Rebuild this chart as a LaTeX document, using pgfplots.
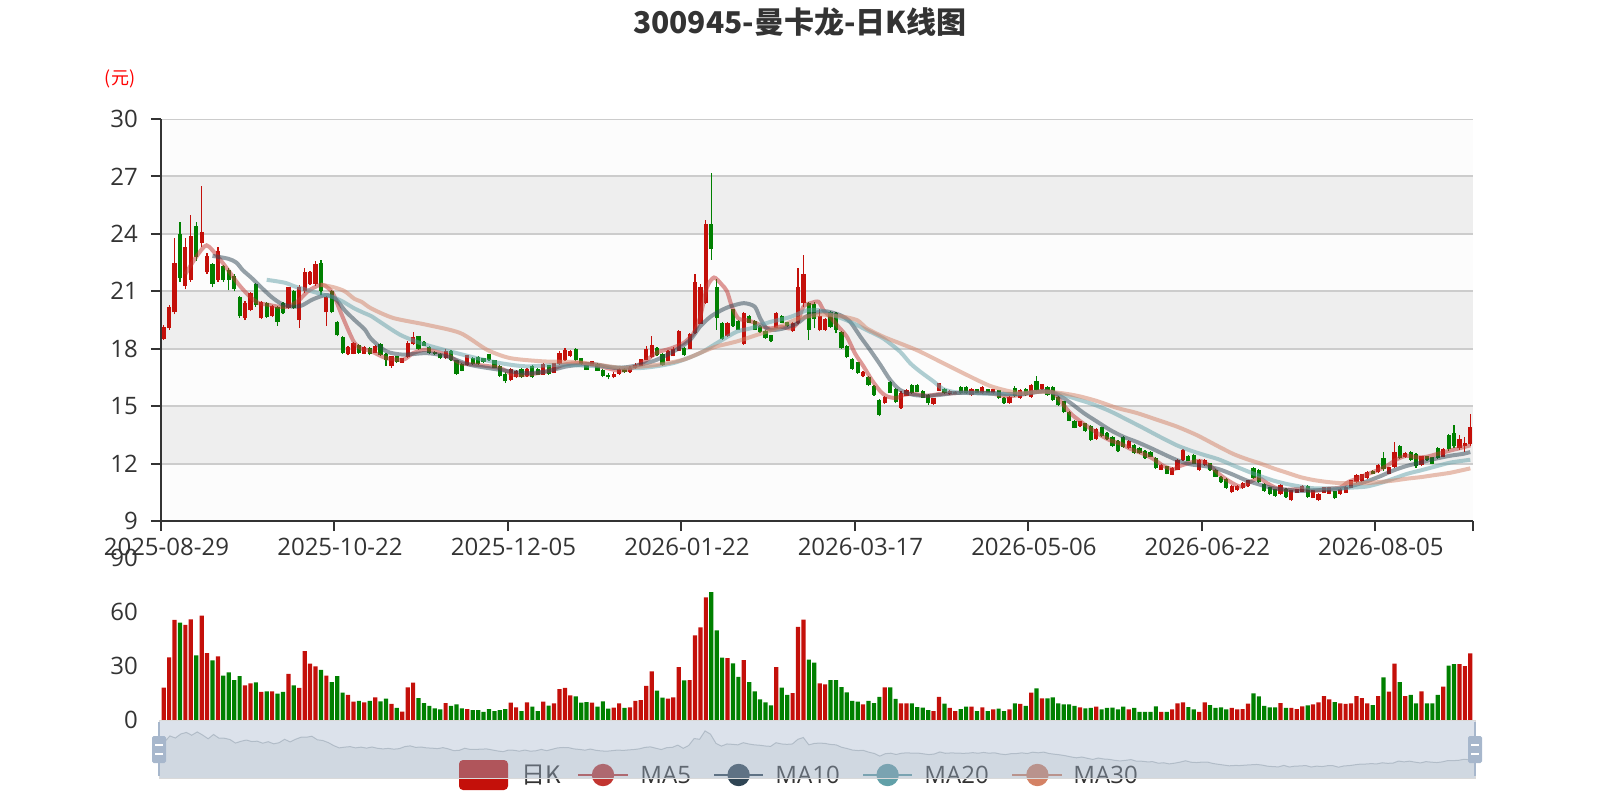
\documentclass[border=0pt]{standalone}
\usepackage{fontspec}
\setmainfont{Open Sans}
\newfontfamily\cjk{Noto Sans CJK SC}
\usepackage{pgfplots}
\usepackage{pgfplotstable}
\pgfplotsset{compat=1.18}

\definecolor{upred}{RGB}{196,16,10}
\definecolor{dngreen}{RGB}{0,128,0}
\definecolor{maA}{HTML}{C23531}
\definecolor{maB}{HTML}{2F4554}
\definecolor{maC}{HTML}{61A0A8}
\definecolor{maD}{HTML}{D48265}
\definecolor{txt}{HTML}{333333}
\definecolor{gridc}{HTML}{CCCCCC}
\definecolor{bandg}{HTML}{EEEEEE}
\definecolor{bandl}{HTML}{FCFCFC}
\definecolor{handlec}{RGB}{167,183,204}
\definecolor{shadowc}{RGB}{47,69,84}

\pgfplotstableread{
i o c l h v
0 18.5 19.15 18.45 19.25 18.0
1 19.1 20.2 19.0 20.3 34.8
2 19.9 22.5 19.8 23.8 55.6
3 24.0 21.7 21.5 24.6 54.1
4 21.3 23.3 21.1 23.8 52.8
5 21.6 23.9 21.5 25.0 55.9
6 24.4 22.8 22.6 24.6 35.9
7 23.5 24.1 23.3 26.5 58.0
8 22.0 22.85 21.9 23.0 37.2
9 22.4 21.4 21.2 22.5 33.1
10 21.6 23.1 21.5 23.3 35.4
11 22.3 21.6 21.5 22.35 24.6
12 22.1 21.6 21.05 22.2 26.5
13 21.8 21.1 21.0 21.9 22.2
14 20.7 19.7 19.6 20.75 24.4
15 19.6 20.4 19.5 20.5 19.3
16 20.0 20.9 19.95 20.95 20.4
17 21.4 20.3 20.2 21.45 20.9
18 19.6 20.45 19.55 20.5 15.6
19 20.4 19.65 19.6 20.45 15.9
20 19.7 20.25 19.65 20.3 15.9
21 20.2 19.4 19.2 20.25 14.6
22 20.4 19.85 19.8 20.45 15.6
23 20.15 21.2 20.1 21.25 25.6
24 21.0 20.15 20.1 21.05 19.3
25 19.5 21.2 19.1 21.35 17.8
26 21.0 22.0 20.9 22.2 38.3
27 21.4 22.0 21.35 22.05 31.3
28 21.4 22.4 21.3 22.56 29.8
29 22.5 21.0 20.8 22.65 27.8
30 19.9 20.7 19.2 20.75 24.6
31 21.0 19.9 19.85 21.05 21.1
32 19.4 18.7 18.65 19.45 24.4
33 18.6 17.8 17.75 18.65 15.2
34 17.7 18.1 17.65 18.15 13.9
35 17.75 18.3 17.7 18.35 10.2
36 18.2 17.8 17.75 18.25 10.6
37 17.75 18.1 17.7 18.15 9.8
38 18.05 17.7 17.65 18.1 10.6
39 17.8 18.15 17.77 18.21 12.6
40 18.25 17.65 17.6 18.3 10.4
41 17.7 17.4 17.1 17.8 11.9
42 17.1 17.6 17.0 17.63 8.9
43 17.6 17.3 17.25 17.62 6.7
44 17.28 17.5 17.25 17.52 4.6
45 17.55 18.3 17.5 18.38 18.1
46 18.25 18.6 18.2 18.85 20.7
47 18.65 18.0 17.95 18.68 12.2
48 18.35 18.15 18.12 18.38 9.4
49 18.1 17.8 17.74 18.12 7.8
50 17.85 17.7 17.69 17.86 6.5
51 17.75 17.5 17.46 17.77 5.9
52 17.5 17.9 17.46 17.98 9.4
53 17.9 17.4 17.34 17.95 7.8
54 17.4 16.7 16.64 17.43 8.7
55 17.2 16.85 16.82 17.25 6.5
56 17.15 17.65 17.12 17.69 6.1
57 17.5 17.2 17.16 17.56 5.5
58 17.55 17.2 17.16 17.6 5.5
59 17.5 17.3 17.25 17.52 4.5
60 17.7 17.4 17.38 17.74 6.0
61 17.4 17.0 16.99 17.43 5.0
62 17.1 16.6 16.52 17.16 5.5
63 16.7 16.3 16.21 16.76 6.0
64 16.35 16.95 16.29 16.99 9.6
65 16.5 16.85 16.47 16.9 7.0
66 16.95 16.5 16.47 16.99 5.0
67 16.55 16.95 16.52 16.99 9.8
68 17.1 16.5 16.47 17.16 7.4
69 16.95 16.65 16.64 16.99 5.0
70 16.65 17.2 16.64 17.25 10.2
71 17.15 16.7 16.64 17.16 8.0
72 16.75 17.25 16.73 17.27 9.3
73 17.2 17.8 17.16 17.86 17.2
74 17.4 17.95 17.34 18.03 17.8
75 17.6 17.9 17.56 17.95 13.7
76 18.0 17.4 17.34 18.03 13.1
77 17.5 17.2 17.16 17.51 9.6
78 17.15 16.9 16.88 17.16 10.0
79 17.1 17.35 17.09 17.38 9.6
80 17.2 16.85 16.83 17.23 7.4
81 16.9 16.6 16.5 16.95 10.4
82 16.65 16.5 16.4 16.75 6.3
83 16.5 16.7 16.45 16.8 6.9
84 16.7 16.95 16.65 17.0 9.3
85 16.95 16.8 16.75 17.0 6.7
86 16.8 17.0 16.75 17.1 7.0
87 17.0 17.15 16.95 17.25 10.6
88 17.1 17.45 17.09 17.46 11.1
89 17.4 18.0 17.4 18.12 18.9
90 17.55 18.2 17.51 18.67 27.0
91 18.05 17.65 17.6 18.09 16.3
92 17.75 17.15 17.11 17.77 12.4
93 17.35 17.9 17.34 17.91 11.9
94 17.6 18.0 17.6 18.07 12.6
95 17.9 18.9 17.86 18.98 29.4
96 18.05 17.65 17.6 18.09 22.0
97 18.0 18.75 18.0 18.8 22.2
98 18.8 21.5 18.77 21.88 47.0
99 19.3 21.2 19.28 21.36 51.5
100 20.4 24.5 20.35 24.72 68.1
101 24.5 23.2 22.65 27.17 71.1
102 21.2 19.6 18.98 21.66 49.8
103 19.35 18.5 18.46 19.4 34.6
104 18.65 19.35 18.63 19.4 34.4
105 20.05 19.2 19.15 20.09 31.5
106 19.45 19.0 18.98 19.49 23.9
107 18.25 19.85 18.21 19.92 33.3
108 19.7 19.35 19.32 19.75 21.1
109 19.45 19.0 18.98 19.49 15.9
110 19.2 18.85 18.8 19.23 11.5
111 18.95 18.55 18.5 18.98 9.8
112 18.7 18.4 18.33 18.72 8.1
113 19.1 19.85 19.06 19.92 29.4
114 19.7 19.35 19.32 19.75 18.0
115 19.4 19.2 19.15 19.42 13.9
116 18.9 19.35 18.89 19.4 15.0
117 19.35 21.2 19.3 22.2 51.7
118 20.4 21.9 20.18 22.92 55.7
119 20.4 19.0 18.45 20.45 33.5
120 20.35 19.55 19.06 20.45 31.9
121 19.0 19.7 18.9 20.1 20.4
122 19.0 19.55 18.95 19.6 19.8
123 19.9 19.15 19.1 19.95 22.2
124 19.85 19.0 18.8 19.93 22.2
125 18.85 18.05 18.0 18.9 18.3
126 18.15 17.55 17.5 18.2 15.4
127 17.45 16.95 16.9 17.5 10.6
128 17.3 16.75 16.68 17.33 10.2
129 16.55 16.8 16.5 16.82 8.7
130 16.5 16.1 16.05 16.55 10.6
131 16.05 15.6 15.54 16.11 9.4
132 15.3 14.55 14.47 15.37 12.8
133 15.15 15.5 15.1 15.55 18.1
134 16.25 15.7 15.68 16.29 18.1
135 15.9 15.2 15.16 15.94 11.7
136 14.9 15.7 14.85 15.77 9.3
137 15.55 15.85 15.51 15.89 9.3
138 16.1 15.7 15.64 16.17 9.3
139 16.1 15.75 15.72 16.17 7.2
140 15.8 15.45 15.42 15.82 6.9
141 15.6 15.15 15.07 15.64 5.5
142 15.1 15.4 15.07 15.42 5.0
143 15.8 16.2 15.77 16.23 12.8
144 15.9 15.67 15.64 15.94 9.1
145 15.62 15.8 15.6 15.82 6.7
146 15.66 15.76 15.65 15.77 5.0
147 16.0 15.67 15.65 16.03 6.1
148 16.0 15.68 15.65 16.03 7.4
149 15.56 15.92 15.54 15.94 7.4
150 15.88 15.69 15.68 15.89 5.0
151 15.67 16.0 15.65 16.03 7.0
152 15.88 15.7 15.68 15.89 5.0
153 15.67 15.87 15.65 15.89 5.9
154 15.83 15.4 15.37 15.85 6.3
155 15.45 15.15 15.12 15.47 5.0
156 15.15 15.5 15.12 15.54 5.9
157 15.95 15.55 15.5 16.03 9.3
158 15.45 15.85 15.39 15.89 8.9
159 15.9 15.56 15.54 15.93 7.8
160 15.5 16.1 15.45 16.16 15.2
161 16.3 15.85 15.8 16.57 17.6
162 15.88 16.14 15.86 16.16 12.0
163 16.0 15.58 15.54 16.04 12.0
164 16.0 15.3 15.27 16.07 12.6
165 15.5 15.05 15.0 15.54 9.3
166 15.25 14.7 14.64 15.27 8.7
167 14.7 14.25 14.2 14.73 8.7
168 14.25 13.88 13.84 14.29 7.8
169 13.95 14.2 13.93 14.23 7.0
170 14.1 13.7 13.66 14.14 6.5
171 13.98 13.25 13.18 14.02 6.7
172 13.28 13.8 13.25 13.84 7.4
173 13.9 13.42 13.39 13.93 5.9
174 13.62 13.28 13.25 13.66 6.7
175 13.4 12.9 12.86 13.43 6.9
176 13.18 12.65 12.59 13.21 5.9
177 13.4 12.88 12.82 13.43 7.4
178 12.8 13.18 12.77 13.21 5.9
179 12.97 12.55 12.5 13.0 6.7
180 12.83 12.53 12.5 12.86 4.5
181 12.68 12.28 12.23 12.71 4.5
182 12.6 12.35 12.32 12.64 4.5
183 12.28 11.75 11.7 12.32 7.6
184 11.67 11.93 11.64 11.96 4.5
185 11.85 11.47 11.43 11.88 4.5
186 11.42 11.78 11.39 11.82 5.9
187 11.68 12.18 11.64 12.23 9.3
188 12.18 12.72 12.14 12.77 9.8
189 12.42 12.14 12.11 12.45 7.2
190 12.45 12.0 11.96 12.5 5.9
191 11.65 12.18 11.61 12.23 4.5
192 11.92 12.2 11.88 12.23 9.8
193 12.02 11.65 11.61 12.05 8.3
194 11.67 11.32 11.29 11.7 6.7
195 11.3 11.02 10.98 11.34 7.0
196 11.2 10.72 10.68 11.25 5.9
197 10.5 10.85 10.45 10.89 6.7
198 10.6 10.83 10.57 10.86 5.9
199 10.72 11.0 10.68 11.04 6.1
200 10.83 11.13 10.8 11.16 9.1
201 11.78 11.25 11.21 11.82 14.8
202 11.65 11.02 10.98 11.7 13.1
203 10.95 10.58 10.54 10.98 7.8
204 10.77 10.4 10.36 10.8 7.0
205 10.65 10.3 10.27 10.68 7.0
206 10.4 10.9 10.36 10.93 9.4
207 10.68 10.25 10.21 10.71 6.7
208 10.08 10.6 10.04 10.63 6.7
209 10.47 10.66 10.45 10.68 6.1
210 10.53 10.83 10.5 10.86 7.6
211 10.85 10.25 10.21 10.89 8.1
212 10.22 10.6 10.18 10.63 8.7
213 10.08 10.42 10.04 10.45 9.8
214 10.48 10.77 10.45 10.8 13.3
215 10.42 10.77 10.39 10.8 11.5
216 10.55 10.18 10.14 10.57 10.0
217 10.4 10.68 10.36 10.71 9.3
218 10.48 10.8 10.45 10.84 8.9
219 10.75 11.12 10.71 11.16 9.3
220 11.02 11.4 10.98 11.43 13.3
221 11.08 11.43 11.04 11.46 12.2
222 11.25 11.58 11.21 11.61 9.3
223 11.62 11.46 11.43 11.64 8.3
224 11.55 11.93 11.52 11.96 13.3
225 12.3 11.7 11.61 12.59 23.7
226 11.46 11.8 11.43 11.82 15.7
227 11.83 12.6 11.79 13.13 31.3
228 12.9 12.28 12.23 12.95 21.1
229 12.32 12.56 12.29 12.59 13.3
230 12.6 12.18 12.14 12.64 13.9
231 12.5 11.85 11.79 12.54 9.3
232 11.92 12.38 11.88 12.41 15.9
233 12.38 12.17 12.14 12.41 9.3
234 12.33 12.0 11.96 12.36 9.3
235 12.82 12.28 12.23 12.86 13.9
236 12.35 12.78 12.32 12.82 18.5
237 13.5 12.75 12.68 13.57 30.2
238 13.6 12.9 12.8 14.0 31.0
239 12.8 13.3 12.7 13.5 31.0
240 12.9 13.1 12.6 13.4 30.0
241 13.0 13.9 12.9 14.6 37.0
}\kdata

\begin{document}
\begin{tikzpicture}[x=1pt,y=1pt]
\path[use as bounding box] (0pt,0pt) rectangle (800pt,400pt);

% title and unit
\node[font=\cjk\bfseries\fontsize{15}{18}\selectfont, text=txt] at (400pt,388.75pt) {300945-曼卡龙-日K线图};
\node[font=\cjk\fontsize{9}{11}\selectfont, text=red] at (60pt,360.5pt) {(元)};

% ---------------- candle axis ----------------
\begin{axis}[
  at={(80.5pt,139.5pt)}, anchor=south west, scale only axis,
  width=656pt, height=201pt,
  xmin=-0.5, xmax=241.5, ymin=9, ymax=30,
  ytick={9,12,15,18,21,24,27,30},
  xtick={-0.5,31.5,63.5,95.5,127.5,159.5,191.5,223.5},
  xticklabels={2025-08-29,2025-10-22,2025-12-05,2026-01-22,2026-03-17,2026-05-06,2026-06-22,2026-08-05},
  xticklabel style={xshift=2.71pt},
  yticklabel style={xshift=-3pt},
  extra x ticks={241.5}, extra x tick labels={},
  axis x line*=bottom, axis y line*=left,
  axis line style={draw=txt, line width=1pt, -},
  tick style={draw=txt, line width=1pt},
  tick align=outside, major tick length=5pt,
  tick label style={font=\fontsize{12}{14}\selectfont, text=txt},
  /pgf/number format/assume math mode=true,
  axis on top,
]
% split areas
\fill[bandl] (axis cs:-0.5,27) rectangle (axis cs:241.5,30);
\fill[bandg] (axis cs:-0.5,24) rectangle (axis cs:241.5,27);
\fill[bandl] (axis cs:-0.5,21) rectangle (axis cs:241.5,24);
\fill[bandg] (axis cs:-0.5,18) rectangle (axis cs:241.5,21);
\fill[bandl] (axis cs:-0.5,15) rectangle (axis cs:241.5,18);
\fill[bandg] (axis cs:-0.5,12) rectangle (axis cs:241.5,15);
\fill[bandl] (axis cs:-0.5,9) rectangle (axis cs:241.5,12);
% split lines
\draw[gridc, line width=1pt] (axis cs:-0.5,12) -- (axis cs:241.5,12);
\draw[gridc, line width=1pt] (axis cs:-0.5,15) -- (axis cs:241.5,15);
\draw[gridc, line width=1pt] (axis cs:-0.5,18) -- (axis cs:241.5,18);
\draw[gridc, line width=1pt] (axis cs:-0.5,21) -- (axis cs:241.5,21);
\draw[gridc, line width=1pt] (axis cs:-0.5,24) -- (axis cs:241.5,24);
\draw[gridc, line width=1pt] (axis cs:-0.5,27) -- (axis cs:241.5,27);
\draw[gridc, line width=1pt] (axis cs:-0.5,30) -- (axis cs:241.5,30);

% up candles: wicks and bodies
\addplot[draw=none, mark=none,
  restrict expr to domain={\thisrow{c}-\thisrow{o}}{0:100},
  error bars/.cd, y dir=plus, y explicit, error mark=none,
  error bar style={draw=upred, line width=0.6pt}]
  table[x=i, y=l, y error expr=\thisrow{h}-\thisrow{l}] {\kdata};
\addplot[draw=none, mark=none,
  restrict expr to domain={\thisrow{c}-\thisrow{o}}{0:100},
  error bars/.cd, y dir=plus, y explicit, error mark=none,
  error bar style={draw=upred, line width=2.1pt}]
  table[x=i, y=o, y error expr=\thisrow{c}-\thisrow{o}] {\kdata};
% down candles
\addplot[draw=none, mark=none,
  restrict expr to domain={\thisrow{c}-\thisrow{o}}{-100:-0.000001},
  error bars/.cd, y dir=plus, y explicit, error mark=none,
  error bar style={draw=dngreen, line width=0.6pt}]
  table[x=i, y=l, y error expr=\thisrow{h}-\thisrow{l}] {\kdata};
\addplot[draw=none, mark=none,
  restrict expr to domain={\thisrow{c}-\thisrow{o}}{-100:-0.000001},
  error bars/.cd, y dir=plus, y explicit, error mark=none,
  error bar style={draw=dngreen, line width=2.1pt}]
  table[x=i, y=c, y error expr=\thisrow{o}-\thisrow{c}] {\kdata};

% MA5
\addplot[smooth, tension=0.45, mark=none, line width=2pt, draw=maA, draw opacity=0.5] coordinates {
(4,21.9) (6,22.8) (7.9,23.4) (10,22.8) (11.9,22.1) (13.7,21.4) (15.6,20.8) (17.4,20.4) (19.2,20.3) (21.1,20.2) (22.9,20.2) (24.8,20.5) (26.6,21.0) (28.5,21.3) (29.7,21.3) (31.2,20.9) (32.5,20.0) (34,19.0) (35.2,18.3) (36.5,18.0) (38,17.9) (39.5,17.7) (41.1,17.5) (44.2,17.43) (46,17.77) (48.5,17.95) (52.2,17.69) (54.7,17.25) (57.7,17.16) (62,16.99) (64.5,16.64) (66.9,16.64) (70.7,16.82) (73.7,17.16) (76.8,17.25) (80.5,17.08) (82.3,16.95) (84,16.85) (86,16.95) (88.5,17.3) (91,17.8) (93.4,18.0) (95.9,18.3) (97.7,18.8) (98.9,19.6) (100.2,21.2) (101.5,21.72) (102.9,21.36) (103.9,21.0) (104.8,20.2) (106,19.58) (107.6,19.49) (109.4,19.32) (110.6,19.15) (111.9,19.06) (113.7,19.15) (115.6,19.06) (116.8,19.3) (118,20.2) (119.5,20.4) (120.8,20.45) (121.7,20.01) (122.9,19.67) (124.2,19.23) (126,18.63) (127.5,17.76) (129.1,17.07) (130.6,16.37) (132.2,15.77) (133.4,15.51) (135.2,15.42) (136.5,15.59) (138.3,15.64) (140.8,15.54) (143.2,15.64) (145.7,15.68) (148.2,15.71) (150.6,15.71) (153.1,15.64) (155.5,15.51) (158,15.59) (159.8,15.68) (162.3,15.8) (164.1,15.71) (165.4,15.27) (167.2,14.64) (169.1,14.2) (170.9,13.84) (172.8,13.48) (174.6,13.21) (176.5,13.04) (178.3,12.77) (180.8,12.5) (182.6,12.23) (184.4,11.88) (186.3,11.7) (187.5,11.88) (189.4,12.05) (191.2,12.14) (193,11.88) (194.9,11.4) (196.7,11.05) (198.6,10.8) (200.4,11.04) (202,11.25) (203.5,10.98) (205.3,10.71) (207.2,10.63) (209.7,10.68) (212.1,10.57) (214.6,10.68) (217,10.75) (218.5,11.04) (220.1,11.21) (221.9,11.43) (223.8,11.64) (225.6,11.88) (227.5,12.23) (229.3,12.41) (231.2,12.32) (233,12.36) (234.9,12.5) (237.3,12.68) (239,12.8) (241,12.95)
};
% MA10
\addplot[smooth, tension=0.45, mark=none, line width=2pt, draw=maB, draw opacity=0.5] coordinates {
(9,22.85) (11.9,22.7) (13.4,22.5) (14.6,22.1) (16.2,21.7) (18,21.2) (19.9,20.7) (21.7,20.35) (23.6,20.2) (25.4,20.25) (27.3,20.55) (29.1,20.75) (30.3,20.8) (31.9,20.55) (33.4,20.0) (35.2,19.5) (37.1,19.0) (38.3,18.5) (41.1,17.86) (44.2,17.69) (48.5,17.77) (52.2,17.6) (56.5,17.16) (62,16.9) (66.9,16.73) (70.7,16.82) (74.4,17.08) (79,17.2) (83.6,16.99) (87.9,17.16) (91,17.43) (94.6,17.95) (97.1,18.46) (98.9,19.15) (100.8,19.66) (102.8,20.0) (104.5,20.21) (107,20.38) (109,20.2) (110,19.6) (111.2,19.06) (112.5,18.98) (114.3,19.06) (116.8,19.32) (118.6,19.7) (120.5,19.9) (122.3,19.95) (124.8,19.75) (126.6,19.41) (128.5,18.63) (130.3,17.93) (132.2,17.15) (134,16.37) (135.8,15.85) (138.3,15.59) (140.8,15.54) (143.2,15.59) (145.7,15.68) (148.2,15.71) (150.6,15.68) (153.1,15.68) (155.5,15.64) (158,15.64) (162.3,15.77) (164.7,15.63) (167.2,15.18) (169.7,14.64) (172.1,14.2) (174.6,13.75) (177.1,13.39) (179.5,13.13) (182,12.82) (184.4,12.5) (186.9,12.18) (189.4,11.96) (191.8,11.88) (194.5,11.72) (197,11.45) (199.8,11.11) (202.3,10.89) (204.7,10.71) (207.2,10.63) (209.7,10.57) (212.1,10.61) (214.6,10.63) (217,10.68) (219.5,10.86) (221.9,11.07) (224.4,11.34) (226.8,11.64) (229.3,11.88) (231.8,12.05) (234.2,12.23) (237.3,12.41) (239.5,12.5) (241,12.6)
};
% MA20
\addplot[smooth, tension=0.45, mark=none, line width=2pt, draw=maC, draw opacity=0.5] coordinates {
(19,21.6) (22.3,21.45) (24.2,21.25) (26,21.1) (27.9,20.95) (29.7,20.8) (31.2,20.7) (33.1,20.45) (35.2,20.1) (37.1,19.85) (38.3,19.7) (39.9,19.4) (43.6,18.73) (47.3,18.3) (51.6,17.95) (57.7,17.51) (62,17.25) (66.9,17.08) (73.1,17.16) (80.5,17.08) (87.9,16.99) (94,17.25) (98.9,17.77) (102,18.29) (105.7,18.89) (108.2,19.06) (111.9,19.4) (115.6,19.66) (118.6,20.0) (121.1,20.0) (123.5,19.75) (126.6,19.41) (129.7,18.97) (132.7,18.54) (135.8,17.85) (137.7,17.24) (139.5,16.81) (142,16.29) (143.8,15.89) (146.3,15.71) (149.4,15.68) (153.1,15.64) (158,15.64) (162.3,15.77) (165.4,15.63) (168.5,15.36) (171.5,15.09) (174.6,14.73) (177.7,14.29) (180.8,13.84) (183.8,13.39) (186.9,12.95) (189.4,12.68) (191.8,12.46) (194.5,12.23) (197.3,11.9) (199.8,11.61) (202.3,11.34) (204.7,11.11) (207.2,10.93) (209.7,10.8) (212.1,10.71) (214.6,10.71) (217,10.71) (219.5,10.75) (221.9,10.8) (224.4,10.98) (226.8,11.21) (229.3,11.46) (231.8,11.64) (234.2,11.82) (237.3,12.05) (241,12.2)
};
% MA30
\addplot[smooth, tension=0.45, mark=none, line width=2pt, draw=maD, draw opacity=0.5] coordinates {
(29,21.35) (31.5,21.2) (33.4,21.0) (35.2,20.6) (36.5,20.45) (38.3,20.1) (42.4,19.6) (48.5,19.25) (54.7,18.82) (59.6,17.95) (63.9,17.51) (70,17.34) (76,17.3) (80.5,17.15) (84.8,17.0) (91,17.16) (95.9,17.43) (99.6,17.86) (102,18.12) (105.7,18.38) (109.4,18.72) (113,19.06) (116.8,19.55) (119.5,19.72) (121.5,19.78) (124.8,19.7) (127.9,19.49) (129.7,19.06) (132.7,18.63) (135.8,18.28) (138.9,17.93) (142,17.5) (145,17.07) (147.5,16.72) (150,16.37) (152.4,16.06) (154.9,15.85) (158,15.68) (161,15.75) (164.7,15.71) (168.5,15.54) (172.1,15.27) (175.8,14.91) (179.5,14.64) (183.2,14.29) (186.9,13.93) (190.6,13.48) (194.5,12.9) (197.3,12.5) (199.8,12.23) (202.3,12.0) (204.7,11.75) (207.2,11.52) (209.7,11.29) (212.1,11.14) (214.6,11.04) (217,10.98) (219.5,10.98) (221.9,10.98) (224.4,11.04) (226.8,11.11) (229.3,11.21) (231.8,11.29) (234.2,11.39) (237.3,11.52) (241,11.75)
};
\end{axis}

% ---------------- volume axis ----------------
\begin{axis}[
  at={(80.5pt,40pt)}, anchor=south west, scale only axis,
  width=656pt, height=81pt,
  xmin=-0.5, xmax=241.5, ymin=0, ymax=90,
  ytick={0,30,60,90}, xtick=\empty,
  axis x line=none, axis y line*=left,
  y axis line style={draw=none},
  ytick style={draw=none},
  yticklabel style={xshift=-3pt},
  tick align=outside, major tick length=5pt,
  tick label style={font=\fontsize{12}{14}\selectfont, text=txt},
  /pgf/number format/assume math mode=true,
]
\addplot[ybar, bar width=2.1pt, bar shift=0pt, fill=upred, draw=none,
  restrict expr to domain={\thisrow{c}-\thisrow{o}}{0:100}]
  table[x=i, y=v] {\kdata};
\addplot[ybar, bar width=2.1pt, bar shift=0pt, fill=dngreen, draw=none,
  restrict expr to domain={\thisrow{c}-\thisrow{o}}{-100:-0.000001}]
  table[x=i, y=v] {\kdata};
\end{axis}

% ---------------- legend (under the slider filler) ----------------
\fill[upred, rounded corners=2pt] (229.5pt,5pt) rectangle (254pt,20pt);
\node[anchor=west, inner sep=0pt, font=\cjk\fontsize{12}{14}\selectfont, text=txt] at (260.5pt,12.5pt) {日K};
\draw[maA, line width=1pt] (289pt,12.5pt) -- (314pt,12.5pt);
\fill[maA] (301.5pt,12.5pt) circle[radius=5.6pt];
\node[anchor=west, inner sep=0pt, font=\fontsize{12}{14}\selectfont, text=txt] at (320pt,12.5pt) {MA5};
\draw[maB, line width=1pt] (357pt,12.5pt) -- (381.7pt,12.5pt);
\fill[maB] (369.3pt,12.5pt) circle[radius=5.6pt];
\node[anchor=west, inner sep=0pt, font=\fontsize{12}{14}\selectfont, text=txt] at (387.5pt,12.5pt) {MA10};
\draw[maC, line width=1pt] (431.5pt,12.5pt) -- (456.2pt,12.5pt);
\fill[maC] (443.8pt,12.5pt) circle[radius=5.6pt];
\node[anchor=west, inner sep=0pt, font=\fontsize{12}{14}\selectfont, text=txt] at (462pt,12.5pt) {MA20};
\draw[maD, line width=1pt] (506.2pt,12.5pt) -- (531.2pt,12.5pt);
\fill[maD] (518.7pt,12.5pt) circle[radius=5.6pt];
\node[anchor=west, inner sep=0pt, font=\fontsize{12}{14}\selectfont, text=txt] at (536.5pt,12.5pt) {MA30};

% ---------------- data zoom slider ----------------
\begin{axis}[
  at={(79.5pt,11pt)}, anchor=south west, scale only axis,
  width=658pt, height=29pt,
  xmin=0, xmax=241, ymin=5.9, ymax=28.8,
  hide axis,
]
\addplot[draw=none, fill=shadowc, fill opacity=0.09] table[x=i, y=c] {\kdata} \closedcycle;
\addplot[draw=shadowc, draw opacity=0.3, line width=0.5pt, mark=none] table[x=i, y=c] {\kdata};
\end{axis}
\fill[handlec, fill opacity=0.4] (79.5pt,11pt) rectangle (737.5pt,40pt);
\draw[gray!30, line width=0.5pt] (79.5pt,11pt) rectangle (737.5pt,40pt);
% handles
\draw[handlec, line width=1.3pt] (79.5pt,12pt) -- (79.5pt,39pt);
\fill[handlec, rounded corners=0.8pt] (76pt,18.5pt) rectangle (83pt,32pt);
\draw[white, line width=0.7pt] (77.7pt,27.5pt) -- (81.3pt,27.5pt);
\draw[white, line width=0.7pt] (77.7pt,23pt) -- (81.3pt,23pt);
\draw[handlec, line width=1.3pt] (737.5pt,12pt) -- (737.5pt,39pt);
\fill[handlec, rounded corners=0.8pt] (734pt,18.5pt) rectangle (741pt,32pt);
\draw[white, line width=0.7pt] (735.7pt,27.5pt) -- (739.3pt,27.5pt);
\draw[white, line width=0.7pt] (735.7pt,23pt) -- (739.3pt,23pt);
\end{tikzpicture}
\end{document}
